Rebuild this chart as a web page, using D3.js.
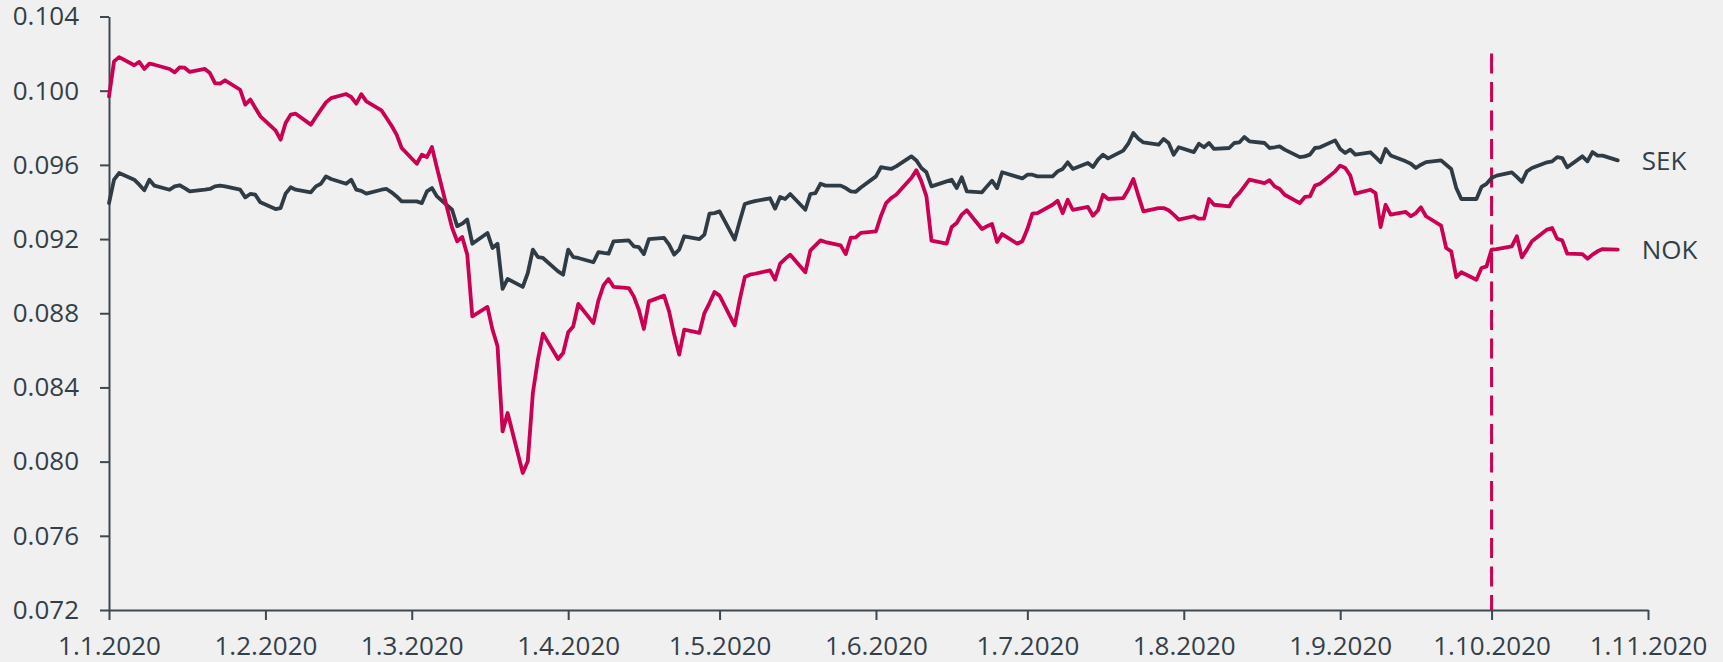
<!DOCTYPE html>
<html>
<head>
<meta charset="utf-8">
<script src="https://cdn.jsdelivr.net/npm/d3@7"></script>
<style>
  html, body { margin: 0; padding: 0; background: #f0f0f0; }
  svg { display: block; }
  text { font-family: "Open Sans", "Noto Sans", sans-serif; }
</style>
</head>
<body>
<svg id="chart" width="1723" height="662"></svg>
<script>
// ---- data ----
const dates = [
"2020-01-01","2020-01-02","2020-01-03","2020-01-06","2020-01-07","2020-01-08","2020-01-09","2020-01-10",
"2020-01-13","2020-01-14","2020-01-15","2020-01-16","2020-01-17","2020-01-20","2020-01-21","2020-01-22",
"2020-01-23","2020-01-24","2020-01-27","2020-01-28","2020-01-29","2020-01-30","2020-01-31",
"2020-02-03","2020-02-04","2020-02-05","2020-02-06","2020-02-07","2020-02-10","2020-02-11","2020-02-12",
"2020-02-13","2020-02-14","2020-02-17","2020-02-18","2020-02-19","2020-02-20","2020-02-21","2020-02-24",
"2020-02-25","2020-02-26","2020-02-27","2020-02-28",
"2020-03-02","2020-03-03","2020-03-04","2020-03-05","2020-03-06","2020-03-09","2020-03-10","2020-03-11",
"2020-03-12","2020-03-13","2020-03-16","2020-03-17","2020-03-18","2020-03-19","2020-03-20","2020-03-23",
"2020-03-24","2020-03-25","2020-03-26","2020-03-27","2020-03-30","2020-03-31",
"2020-04-01","2020-04-02","2020-04-03","2020-04-06","2020-04-07","2020-04-08","2020-04-09","2020-04-10",
"2020-04-13","2020-04-14","2020-04-15","2020-04-16","2020-04-17","2020-04-20","2020-04-21","2020-04-22",
"2020-04-23","2020-04-24","2020-04-27","2020-04-28","2020-04-29","2020-04-30",
"2020-05-01","2020-05-04","2020-05-05","2020-05-06","2020-05-07","2020-05-08","2020-05-11","2020-05-12",
"2020-05-13","2020-05-14","2020-05-15","2020-05-18","2020-05-19","2020-05-20","2020-05-21","2020-05-22",
"2020-05-25","2020-05-26","2020-05-27","2020-05-28","2020-05-29",
"2020-06-01","2020-06-02","2020-06-03","2020-06-04","2020-06-05","2020-06-08","2020-06-09","2020-06-10",
"2020-06-11","2020-06-12","2020-06-15","2020-06-16","2020-06-17","2020-06-18","2020-06-19","2020-06-22",
"2020-06-23","2020-06-24","2020-06-25","2020-06-26","2020-06-29","2020-06-30",
"2020-07-01","2020-07-02","2020-07-03","2020-07-06","2020-07-07","2020-07-08","2020-07-09","2020-07-10",
"2020-07-13","2020-07-14","2020-07-15","2020-07-16","2020-07-17","2020-07-20","2020-07-21","2020-07-22",
"2020-07-23","2020-07-24","2020-07-27","2020-07-28","2020-07-29","2020-07-30","2020-07-31",
"2020-08-03","2020-08-04","2020-08-05","2020-08-06","2020-08-07","2020-08-10","2020-08-11","2020-08-12",
"2020-08-13","2020-08-14","2020-08-17","2020-08-18","2020-08-19","2020-08-20","2020-08-21","2020-08-24",
"2020-08-25","2020-08-26","2020-08-27","2020-08-28","2020-08-31",
"2020-09-01","2020-09-02","2020-09-03","2020-09-04","2020-09-07","2020-09-08","2020-09-09","2020-09-10",
"2020-09-11","2020-09-14","2020-09-15","2020-09-16","2020-09-17","2020-09-18","2020-09-21","2020-09-22",
"2020-09-23","2020-09-24","2020-09-25","2020-09-28","2020-09-29","2020-09-30",
"2020-10-01","2020-10-02","2020-10-05","2020-10-06","2020-10-07","2020-10-08","2020-10-09","2020-10-12",
"2020-10-13","2020-10-14","2020-10-15","2020-10-16","2020-10-19","2020-10-20","2020-10-21","2020-10-22",
"2020-10-23","2020-10-26"
];

const sek = [
0.09394,0.09520,0.09556,0.09520,0.09493,0.09463,0.09520,0.09488,
0.09466,0.09484,0.09490,0.09475,0.09457,0.09466,0.09470,0.09484,
0.09488,0.09484,0.09466,0.09425,0.09443,0.09439,0.09398,
0.09362,0.09367,0.09445,0.09479,0.09466,0.09452,0.09484,0.09498,
0.09538,0.09524,0.09498,0.09520,0.09466,0.09460,0.09445,0.09466,
0.09470,0.09452,0.09430,0.09403,
0.09403,0.09394,0.09457,0.09475,0.09430,0.09358,0.09269,0.09283,
0.09305,0.09175,0.09233,0.09152,0.09175,0.08931,0.08985,0.08942,
0.09017,0.09143,0.09103,0.09098,0.09026,0.09008,
0.09143,0.09103,0.09098,0.09075,0.09130,0.09125,0.09121,0.09188,
0.09193,0.09161,0.09157,0.09119,0.09200,0.09206,0.09170,0.09116,
0.09143,0.09215,0.09200,0.09224,0.09337,0.09340,
0.09349,0.09197,0.09296,0.09389,0.09398,0.09405,0.09420,0.09364,
0.09427,0.09416,0.09443,0.09358,0.09443,0.09448,0.09498,0.09488,
0.09488,0.09475,0.09457,0.09455,0.09478,
0.09538,0.09588,0.09583,0.09578,0.09592,0.09646,0.09624,0.09583,
0.09560,0.09484,0.09511,0.09520,0.09475,0.09533,0.09457,0.09452,
0.09484,0.09515,0.09475,0.09560,0.09535,0.09527,
0.09547,0.09547,0.09538,0.09538,0.09565,0.09578,0.09614,0.09578,
0.09610,0.09588,0.09628,0.09655,0.09635,0.09677,0.09714,0.09772,
0.09741,0.09721,0.09709,0.09739,0.09718,0.09655,0.09695,
0.09669,0.09714,0.09695,0.09718,0.09686,0.09691,0.09718,0.09721,
0.09750,0.09727,0.09718,0.09691,0.09695,0.09700,0.09682,0.09642,
0.09646,0.09655,0.09691,0.09695,0.09732,
0.09686,0.09664,0.09682,0.09655,0.09668,0.09642,0.09614,0.09686,
0.09651,0.09619,0.09606,0.09583,0.09601,0.09615,0.09624,0.09601,
0.09578,0.09475,0.09416,0.09416,0.09481,0.09498,
0.09529,0.09542,0.09560,0.09535,0.09508,0.09565,0.09583,0.09614,
0.09619,0.09642,0.09637,0.09587,0.09646,0.09619,0.09669,0.09650,
0.09650,0.09624
];

const nok = [
0.09969,0.10158,0.10181,0.10137,0.10155,0.10117,0.10146,0.10140,
0.10117,0.10099,0.10126,0.10124,0.10101,0.10117,0.10095,0.10041,
0.10038,0.10056,0.10005,0.09925,0.09952,0.09907,0.09862,
0.09786,0.09736,0.09826,0.09871,0.09876,0.09817,0.09858,0.09898,
0.09937,0.09960,0.09982,0.09966,0.09930,0.09981,0.09942,0.09894,
0.09853,0.09811,0.09763,0.09691,
0.09606,0.09655,0.09642,0.09696,0.09583,0.09260,0.09188,0.09211,
0.09116,0.08783,0.08834,0.08712,0.08622,0.08163,0.08262,0.07939,
0.08002,0.08370,0.08550,0.08690,0.08553,0.08586,
0.08697,0.08729,0.08850,0.08747,0.08870,0.08950,0.08985,0.08942,
0.08936,0.08891,0.08819,0.08715,0.08864,0.08895,0.08810,0.08685,
0.08577,0.08712,0.08694,0.08801,0.08855,0.08915,
0.08895,0.08735,0.08873,0.08995,0.09008,0.09013,0.09031,0.08981,
0.09067,0.09093,0.09116,0.09021,0.09139,0.09166,0.09193,0.09184,
0.09166,0.09119,0.09207,0.09209,0.09233,
0.09242,0.09326,0.09394,0.09421,0.09439,0.09529,0.09571,0.09511,
0.09430,0.09191,0.09175,0.09265,0.09287,0.09332,0.09355,0.09254,
0.09269,0.09281,0.09184,0.09227,0.09175,0.09188,
0.09254,0.09337,0.09340,0.09385,0.09407,0.09340,0.09412,0.09358,
0.09373,0.09326,0.09355,0.09439,0.09416,0.09421,0.09466,0.09524,
0.09434,0.09349,0.09367,0.09367,0.09355,0.09332,0.09305,
0.09323,0.09310,0.09310,0.09416,0.09385,0.09376,0.09421,0.09448,
0.09484,0.09520,0.09502,0.09517,0.09484,0.09470,0.09439,0.09394,
0.09427,0.09430,0.09488,0.09498,0.09565,
0.09596,0.09583,0.09542,0.09445,0.09466,0.09448,0.09265,0.09385,
0.09332,0.09346,0.09323,0.09340,0.09371,0.09323,0.09272,0.09152,
0.09134,0.08995,0.09021,0.08981,0.09044,0.09053,
0.09143,0.09146,0.09161,0.09215,0.09101,0.09143,0.09188,0.09251,
0.09260,0.09202,0.09193,0.09121,0.09119,0.09094,0.09116,0.09134,
0.09146,0.09143
];

const seriesNames = ["SEK", "NOK"];
const yTicks = [0.072, 0.076, 0.080, 0.084, 0.088, 0.092, 0.096, 0.100, 0.104];
const xTickDates = ["2020-01-01","2020-02-01","2020-03-01","2020-04-01","2020-05-01","2020-06-01",
                    "2020-07-01","2020-08-01","2020-09-01","2020-10-01","2020-11-01"];
const markerDate = "2020-10-01";
const markerTop = 0.102;

// ---- drawing ----
const parse = d3.timeParse("%Y-%m-%d");
const svg = d3.select("#chart");
const textColor = "#333f48";
const colors = { SEK: "#2f3c45", NOK: "#cc0052" };

const x = d3.scaleTime()
  .domain([parse(xTickDates[0]), parse(xTickDates[xTickDates.length - 1])])
  .range([109, 1648]);
const y = d3.scaleLinear()
  .domain([yTicks[0], yTicks[yTicks.length - 1]])
  .range([610, 16.5]);

const fontSize = 26;

// axes
const yAxis = svg.append("g")
  .attr("transform", `translate(${x.range()[0]},0)`)
  .call(d3.axisLeft(y).tickValues(yTicks).tickFormat(d3.format(".3f"))
        .tickSize(9).tickSizeOuter(0).tickPadding(21));
const xAxis = svg.append("g")
  .attr("transform", `translate(0,${y.range()[0]})`)
  .call(d3.axisBottom(x).tickValues(xTickDates.map(parse))
        .tickFormat(d3.timeFormat("%-d.%-m.%Y"))
        .tickSize(10).tickSizeOuter(0).tickPadding(17));

[yAxis, xAxis].forEach(g => {
  g.select(".domain").attr("stroke", "#3c4852").attr("stroke-width", 2);
  g.selectAll(".tick line").attr("stroke", "#3c4852").attr("stroke-width", 2);
  g.selectAll(".tick text").attr("fill", textColor)
    .style("font-size", fontSize + "px").style("font-family", '"Open Sans", "Noto Sans", sans-serif');
});

// dashed marker line
svg.append("line")
  .attr("x1", x(parse(markerDate))).attr("x2", x(parse(markerDate)))
  .attr("y1", y(markerTop)).attr("y2", y.range()[0])
  .attr("stroke", colors.NOK).attr("stroke-width", 3)
  .attr("stroke-dasharray", "20,8.5");

// lines
const series = { SEK: sek, NOK: nok };
const line = d3.line()
  .x((d, i) => x(parse(dates[i])))
  .y(d => y(d));

seriesNames.forEach(name => {
  svg.append("path")
    .datum(series[name])
    .attr("fill", "none")
    .attr("stroke", colors[name])
    .attr("stroke-width", 3.8)
    .attr("stroke-linejoin", "round")
    .attr("stroke-linecap", "round")
    .attr("d", line);

  const last = series[name].length - 1;
  svg.append("text")
    .attr("x", x(parse(dates[last])) + 24)
    .attr("y", y(series[name][last]))
    .attr("dy", "0.36em")
    .attr("fill", textColor)
    .style("font-size", fontSize + "px")
    .text(name);
});
</script>
</body>
</html>
